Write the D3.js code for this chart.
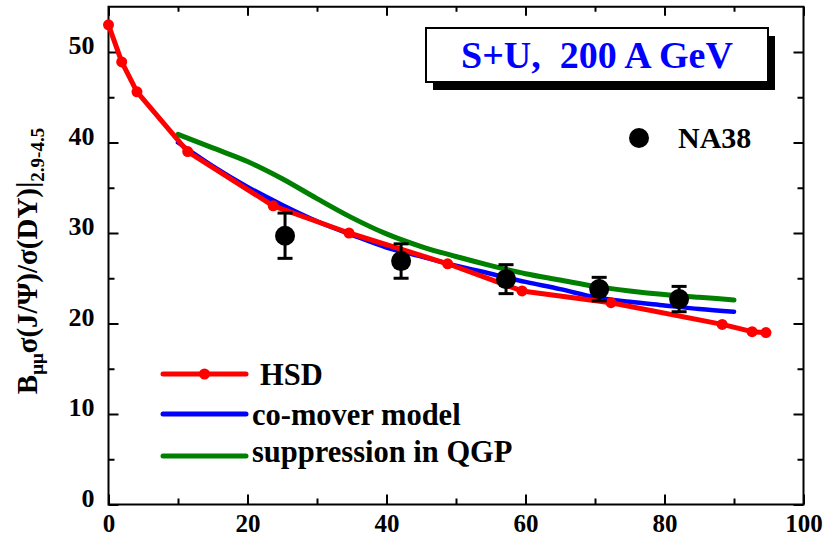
<!DOCTYPE html>
<html><head><meta charset="utf-8">
<script src="https://cdn.jsdelivr.net/npm/d3@7"></script>
<style>
body{margin:0;background:#fff}
svg text{font-family:"Liberation Serif","Times New Roman",serif;font-weight:bold;fill:#000}
</style>
</head><body><svg id="c" width="825" height="539"></svg>
<script>
const xTicks=[0,20,40,60,80,100];
const xMinor=[10,30,50,70,90];
const yTicks=[0,10,20,30,40,50];
const yMinor=[5,15,25,35,45];
const hsdX=[0,1.9,4.1,11.4,23.7,34.6,48.8,59.5,72.3,88.3,92.6,94.6];
const hsdY=[53.0,48.9,45.6,39.0,33.0,30.0,26.6,23.6,22.3,19.9,19.1,19.0];
const comoverX=[10,15,20,25,30,35,40,45,50,55,60,65,70,75,80,85,90];
const comoverY=[40.0,37.4,35.1,33.1,31.3,29.8,28.4,27.4,26.4,25.5,24.6,23.8,22.9,22.4,22.0,21.6,21.3];
const qgpX=[10,15,20,25,30,35,40,45,50,55,60,65,70,75,80,85,90];
const qgpY=[40.9,39.4,37.9,36.0,33.8,31.7,29.9,28.5,27.4,26.4,25.5,24.8,24.1,23.6,23.2,22.9,22.6];
const na38X=[25.4,42.1,57.2,70.6,82.1];
const na38Y=[29.7,26.9,24.9,23.8,22.7];
const na38Err=[2.5,1.9,1.6,1.3,1.4];
const legendLabels=["HSD","co-mover model","suppression in QGP"];
const titleText="S+U,\u00a0\u00a0200 A GeV";
const dataLabel="NA38";

const svg=d3.select("#c");
const L=108.5,R=803.5,T=6.75,B=504.5;
const x=d3.scaleLinear().domain([0,100]).range([L,R]);
const y=d3.scaleLinear().domain([0,55]).range([B,T]);

function styleAxis(g){g.select(".domain").remove();g.selectAll(".tick line").attr("stroke","#000").attr("stroke-width",2);}
// bottom
svg.append("g").attr("transform",`translate(0,${B})`)
 .call(d3.axisBottom(x).tickValues(xTicks).tickSize(-10).tickPadding(10).tickFormat(d3.format("d")))
 .call(styleAxis).call(g=>g.selectAll("text").style("font-size","25px"));
svg.append("g").attr("transform",`translate(0,${B})`)
 .call(d3.axisBottom(x).tickValues(xMinor).tickSize(-6).tickFormat("")).call(styleAxis);
// top
svg.append("g").attr("transform",`translate(0,${T})`)
 .call(d3.axisTop(x).tickValues(xTicks).tickSize(-9).tickFormat("")).call(styleAxis);
svg.append("g").attr("transform",`translate(0,${T})`)
 .call(d3.axisTop(x).tickValues(xMinor).tickSize(-5).tickFormat("")).call(styleAxis);
// left
svg.append("g").attr("transform",`translate(${L},0)`)
 .call(d3.axisLeft(y).tickValues(yTicks).tickSize(-10).tickPadding(14).tickFormat(d3.format("d")))
 .call(styleAxis).call(g=>g.selectAll("text").style("font-size","26px").attr("dy","0.07em"));
svg.append("g").attr("transform",`translate(${L},0)`)
 .call(d3.axisLeft(y).tickValues(yMinor).tickSize(-6).tickFormat("")).call(styleAxis);
// right
svg.append("g").attr("transform",`translate(${R},0)`)
 .call(d3.axisRight(y).tickValues(yTicks).tickSize(-10).tickFormat("")).call(styleAxis);
svg.append("g").attr("transform",`translate(${R},0)`)
 .call(d3.axisRight(y).tickValues(yMinor).tickSize(-6).tickFormat("")).call(styleAxis);
svg.selectAll(".tick text").attr("font-family",null).attr("font-size",null);

// frame
svg.append("rect").attr("x",L).attr("y",T).attr("width",R-L).attr("height",B-T)
 .attr("fill","none").attr("stroke","#000").attr("stroke-width",2);

// curves
const lineC=d3.line().x(d=>x(d[0])).y(d=>y(d[1])).curve(d3.curveMonotoneX);
const lineL=d3.line().x(d=>x(d[0])).y(d=>y(d[1]));
const qgp=qgpX.map((v,i)=>[v,qgpY[i]]);
const com=comoverX.map((v,i)=>[v,comoverY[i]]);
const hsd=hsdX.map((v,i)=>[v,hsdY[i]]);
svg.append("path").attr("d",lineC(qgp)).attr("fill","none").attr("stroke","#008000").attr("stroke-width",5).attr("stroke-linecap","round");
svg.append("path").attr("d",lineC(com)).attr("fill","none").attr("stroke","#0000ff").attr("stroke-width",4.5).attr("stroke-linecap","round");
svg.append("path").attr("d",lineL(hsd)).attr("fill","none").attr("stroke","#ff0000").attr("stroke-width",5).attr("stroke-linejoin","round").attr("stroke-linecap","round");
svg.append("g").selectAll("circle").data(hsd).join("circle")
 .attr("cx",d=>x(d[0])).attr("cy",d=>y(d[1])).attr("r",5.5).attr("fill","#ff0000");

// NA38 data
const na=na38X.map((v,i)=>({x:v,y:na38Y[i],e:na38Err[i]}));
const ng=svg.append("g");
ng.selectAll("line.v").data(na).join("line").attr("class","v").attr("x1",d=>x(d.x)).attr("x2",d=>x(d.x))
 .attr("y1",d=>y(d.y+d.e)).attr("y2",d=>y(d.y-d.e)).attr("stroke","#000").attr("stroke-width",3);
ng.selectAll("line.cap1").data(na).join("line").attr("class","cap1").attr("x1",d=>x(d.x)-7.5).attr("x2",d=>x(d.x)+7.5)
 .attr("y1",d=>y(d.y+d.e)).attr("y2",d=>y(d.y+d.e)).attr("stroke","#000").attr("stroke-width",3);
ng.selectAll("line.cap2").data(na).join("line").attr("class","cap2").attr("x1",d=>x(d.x)-7.5).attr("x2",d=>x(d.x)+7.5)
 .attr("y1",d=>y(d.y-d.e)).attr("y2",d=>y(d.y-d.e)).attr("stroke","#000").attr("stroke-width",3);
ng.selectAll("circle").data(na).join("circle").attr("cx",d=>x(d.x)).attr("cy",d=>y(d.y)).attr("r",10).attr("fill","#000");

// title box
svg.append("rect").attr("x",433).attr("y",36).attr("width",342).attr("height",54).attr("fill","#000");
svg.append("rect").attr("x",426).attr("y",28).attr("width",342).attr("height",54).attr("fill","#fff").attr("stroke","#000").attr("stroke-width",2);
svg.append("text").attr("x",597).attr("y",68).attr("text-anchor","middle").style("font-size","38px").style("fill","#0000ff").text(titleText);

// NA38 legend
svg.append("circle").attr("cx",639).attr("cy",138).attr("r",10).attr("fill","#000");
svg.append("text").attr("x",678).attr("y",148).style("font-size","30px").text(dataLabel);

// legend
const legY=[374,414,456], legBase=[385,425,462], legTx=[260,252,252];
const legCol=["#ff0000","#0000ff","#008000"];
legendLabels.forEach((lab,i)=>{
  svg.append("line").attr("x1",163).attr("x2",246).attr("y1",legY[i]).attr("y2",legY[i])
    .attr("stroke",legCol[i]).attr("stroke-width",5).attr("stroke-linecap","round");
  if(i===0) svg.append("circle").attr("cx",204.5).attr("cy",legY[i]).attr("r",5.5).attr("fill",legCol[i]);
  svg.append("text").attr("x",legTx[i]).attr("y",legBase[i]).style("font-size","30.5px").text(lab);
});

// y axis title
const yt=svg.append("text").attr("transform","translate(37,261) rotate(-90)").attr("text-anchor","middle").style("font-size","29px");
yt.append("tspan").text("B");
yt.append("tspan").attr("dy",6).style("font-size","19px").text("\u03bc\u03bc");
yt.append("tspan").attr("dy",-6).text("\u03c3(J/\u03a8)/\u03c3(DY)|");
yt.append("tspan").attr("dy",7).style("font-size","19px").text("2.9-4.5");
</script>
</body></html>
